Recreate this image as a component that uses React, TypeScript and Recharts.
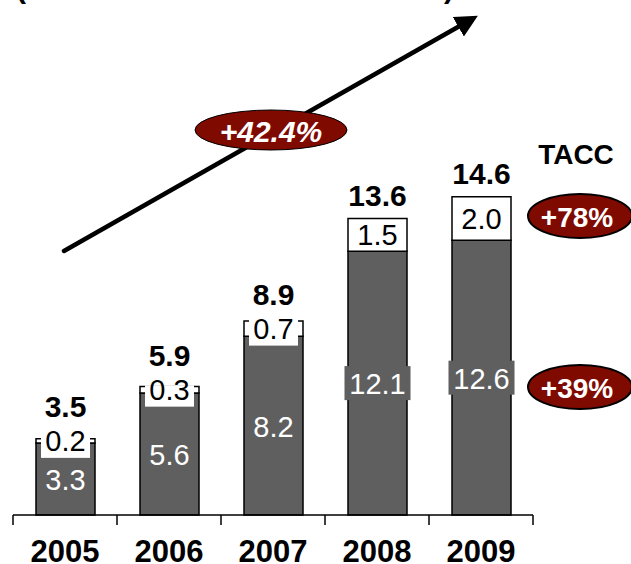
import { BarChart, Bar, XAxis, YAxis, LabelList } from 'recharts';

const years = ['2005', '2006', '2007', '2008', '2009'];
const baseValues = [3.3, 5.6, 8.2, 12.1, 12.6];
const topValues = [0.2, 0.3, 0.7, 1.5, 2.0];
const totals = [3.5, 5.9, 8.9, 13.6, 14.6];

const growthAll = '+42.4%';
const growthTop = '+78%';
const growthBase = '+39%';

const data = years.map((year, i) => ({
  year,
  base: baseValues[i],
  top: topValues[i],
  total: totals[i],
}));

const GRAY = '#5f5f5f';
const RED = '#7f0a00';
const FONT = 'Arial, "Liberation Sans", Helvetica, sans-serif';
const W = 631;
const H = 564;
const MARGIN = { top: 79, right: 98, left: 13, bottom: 0 };
const BAND = (W - MARGIN.left - MARGIN.right) / years.length;

const fmt = (v: number) => v.toFixed(1);

// white numbers on the gray part, with a gray box that can stick out of the bar
const BaseLabel = (props: any) => {
  const { x, y, width, height, value } = props;
  const cx = x + width / 2;
  const cy = y + height / 2;
  const txt = fmt(value);
  const tw = txt.length * 15 + 6;
  return (
    <g>
      <rect x={cx - tw / 2} y={cy - 17} width={tw} height={34} fill={GRAY} />
      <text x={cx} y={cy + 1} textAnchor="middle" dominantBaseline="central" fill="#fff" fontSize={29} fontFamily={FONT}>
        {txt}
      </text>
    </g>
  );
};

// black numbers on the white part; for thin segments a white box hides the top border
const TopLabel = (props: any) => {
  const { x, y, width, height, value } = props;
  const cx = x + width / 2;
  const cy = y + height / 2;
  const txt = fmt(value);
  const tw = txt.length * 15 + 4;
  const thin = height < 24;
  return (
    <g>
      {thin && <rect x={cx - tw / 2} y={y - 1} width={tw} height={cy + 17 - (y - 1)} fill="#fff" />}
      <text x={cx} y={cy} textAnchor="middle" dominantBaseline="central" fill="#000" fontSize={29} fontFamily={FONT}>
        {txt}
      </text>
    </g>
  );
};

const TotalLabel = (props: any) => {
  const { x, y, width, height, value } = props;
  const labelTop = y + height / 2 - 11;
  const base = Math.min(y, labelTop) - 13;
  return (
    <text x={x + width / 2} y={base} textAnchor="middle" fill="#000" fontSize={30} fontWeight="bold" fontFamily={FONT}>
      {fmt(value)}
    </text>
  );
};

const YearTick = (props: any) => {
  const { x, y, payload, index } = props;
  const left = x - BAND / 2;
  const right = x + BAND / 2;
  return (
    <g>
      <line x1={left} y1={y} x2={left} y2={y + 10} stroke="#000" strokeWidth={1.5} />
      {index === years.length - 1 && (
        <line x1={right} y1={y} x2={right} y2={y + 10} stroke="#000" strokeWidth={1.5} />
      )}
      <text x={x} y={y + 47} textAnchor="middle" fill="#000" fontSize={31} fontWeight="bold" fontFamily={FONT}>
        {payload.value}
      </text>
    </g>
  );
};

export default function App() {
  return (
    <div style={{ position: 'absolute', left: 0, top: 0, width: W, height: H, background: '#fff' }}>
      <BarChart width={W} height={H} data={data} margin={MARGIN} barSize={59}>
        <XAxis
          dataKey="year"
          height={49}
          axisLine={{ stroke: '#000', strokeWidth: 1.5 }}
          tickLine={false}
          tickSize={0}
          tickMargin={0}
          interval={0}
          tick={<YearTick />}
        />
        <YAxis hide domain={[0, 20]} />
        <Bar dataKey="base" stackId="a" fill={GRAY} stroke="#000" strokeWidth={1.5} isAnimationActive={false}>
          <LabelList dataKey="base" content={<BaseLabel />} />
        </Bar>
        <Bar dataKey="top" stackId="a" fill="#fff" stroke="#000" strokeWidth={1.5} isAnimationActive={false}>
          <LabelList dataKey="top" content={<TopLabel />} />
          <LabelList dataKey="total" content={<TotalLabel />} />
        </Bar>
      </BarChart>
      <svg width={W} height={H} style={{ position: 'absolute', left: 0, top: 0, pointerEvents: 'none' }}>
        <defs>
          <marker id="head" markerWidth="5" markerHeight="5" refX="3.5" refY="2.5" orient="auto">
            <path d="M0,0 L5,2.5 L0,5 z" fill="#000" />
          </marker>
        </defs>
        <text x={16} y={-2} fontSize={30} fontWeight="bold" fontFamily={FONT}>(</text>
        <text x={444} y={-2} fontSize={30} fontWeight="bold" fontFamily={FONT}>)</text>
        <line x1={64} y1={251} x2={472} y2={19} stroke="#000" strokeWidth={4.5} strokeLinecap="round" markerEnd="url(#head)" />
        <ellipse cx={271} cy={130} rx={76} ry={20} fill={RED} stroke="#000" strokeWidth={1} />
        <text x={271} y={131} textAnchor="middle" dominantBaseline="central" fill="#fff" fontSize={30} fontWeight="bold" fontStyle="italic" fontFamily={FONT}>
          {growthAll}
        </text>
        <text x={576} y={154} textAnchor="middle" dominantBaseline="central" fill="#000" fontSize={28} fontWeight="bold" fontFamily={FONT}>
          TACC
        </text>
        <ellipse cx={580} cy={216} rx={52} ry={22} fill={RED} stroke="#000" strokeWidth={2} />
        <text x={577} y={217} textAnchor="middle" dominantBaseline="central" fill="#fff" fontSize={28} fontWeight="bold" fontFamily={FONT}>
          {growthTop}
        </text>
        <ellipse cx={580} cy={387} rx={52} ry={22} fill={RED} stroke="#000" strokeWidth={2} />
        <text x={577} y={388} textAnchor="middle" dominantBaseline="central" fill="#fff" fontSize={28} fontWeight="bold" fontFamily={FONT}>
          {growthBase}
        </text>
      </svg>
    </div>
  );
}
